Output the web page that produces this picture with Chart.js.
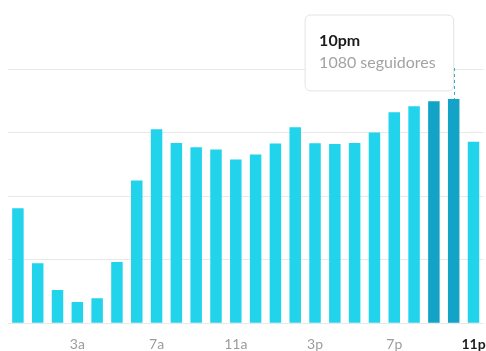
<!DOCTYPE html>
<html>
<head>
<meta charset="utf-8">
<script src="https://cdn.jsdelivr.net/npm/chart.js@4/dist/chart.umd.min.js"></script>
<style>
  html, body { margin: 0; padding: 0; background: #ffffff; }
  #wrap { width: 486px; height: 351px; position: relative; }
</style>
</head>
<body>
<div id="wrap"><canvas id="chart"></canvas></div>
<script>
// Followers online by hour of day
const hours = ['12a','1a','2a','3a','4a','5a','6a','7a','8a','9a','10a','11a',
               '12p','1p','2p','3p','4p','5p','6p','7p','8p','9p','10p','11p'];
const hourNames = ['12am','1am','2am','3am','4am','5am','6am','7am','8am','9am','10am','11am',
                   '12pm','1pm','2pm','3pm','4pm','5pm','6pm','7pm','8pm','9pm','10pm','11pm'];
const followers = [554, 289, 160, 103, 120, 295, 687, 934, 868, 847, 836, 788,
                   812, 865, 944, 867, 863, 868, 918, 1016, 1045, 1069, 1080, 874];
const shownTicks = ['3a', '7a', '11a', '3p', '7p', '11p'];
const currentTick = '11p';
const peakHours = ['9p', '10p'];
const selectedHour = '10p';
const gridStep = 306;
const gridMax = 1224;

const FONT = 'Lato, "Noto Sans", sans-serif';
const BAR = '#21d3eb';
const BAR_PEAK = '#12a3c6';

const selectedIndex = hours.indexOf(selectedHour);

// position the tooltip box so its right edge sits on the bar centre
Chart.Tooltip.positioners.hourTop = function (items) {
  if (!items.length) return false;
  const el = items[0].element;
  return { x: el.x - 6, y: 15 };
};

// dashed guide from the tooltip down to the selected bar
const guideLine = {
  id: 'guideLine',
  afterDraw(chart) {
    const el = chart.getDatasetMeta(0).data[selectedIndex];
    if (!el) return;
    const ctx = chart.ctx;
    ctx.save();
    ctx.strokeStyle = '#3aa8d2';
    ctx.lineWidth = 1;
    ctx.setLineDash([3, 3]);
    ctx.beginPath();
    ctx.moveTo(Math.round(el.x) + 0.5, 68);
    ctx.lineTo(Math.round(el.x) + 0.5, el.y);
    ctx.stroke();
    ctx.restore();
  }
};

const chart = new Chart(document.getElementById('chart'), {
  type: 'bar',
  data: {
    labels: hours,
    datasets: [{
      data: followers,
      backgroundColor: hours.map(h => peakHours.includes(h) ? BAR_PEAK : BAR),
      hoverBackgroundColor: hours.map(h => peakHours.includes(h) ? BAR_PEAK : BAR),
      borderWidth: 0,
      categoryPercentage: 1,
      barPercentage: 0.58
    }]
  },
  options: {
    responsive: true,
    maintainAspectRatio: false,
    animation: false,
    events: [],
    layout: { padding: { left: 8, right: 2.6, top: 69, bottom: 0 } },
    scales: {
      x: {
        grid: { display: false, drawTicks: true, tickLength: 13 },
        border: { display: false },
        afterFit: scale => { scale.height = 27.7; },
        ticks: {
          autoSkip: false,
          maxRotation: 0,
          padding: 0,
          font: ctx => ({ family: FONT, size: 14, weight: hours[ctx.index] === currentTick ? 'bold' : 'normal' }),
          color: ctx => hours[ctx.index] === currentTick ? '#1c1c1c' : '#9c9c9c',
          callback: (v, i) => shownTicks.includes(hours[i]) ? hours[i] : ''
        }
      },
      y: {
        min: 0,
        max: gridMax,
        border: { display: false },
        grid: { color: '#e8e8e8', drawTicks: false, lineWidth: 1 },
        ticks: { display: false, stepSize: gridStep }
      }
    },
    plugins: {
      legend: { display: false },
      tooltip: {
        enabled: true,
        position: 'hourTop',
        xAlign: 'right',
        yAlign: 'top',
        caretSize: 0,
        caretPadding: 0,
        cornerRadius: 6,
        backgroundColor: '#ffffff',
        borderColor: '#e3e3e3',
        borderWidth: 1,
        displayColors: false,
        padding: { top: 16.5, bottom: 18, left: 14, right: 18 },
        titleFont: { family: FONT, size: 16, weight: 'bold' },
        titleColor: '#1c1c1c',
        titleMarginBottom: 3,
        bodyFont: { family: FONT, size: 16 },
        bodyColor: '#a3a3a3',
        callbacks: {
          title: items => hourNames[items[0].dataIndex],
          label: item => item.raw + ' seguidores'
        }
      }
    }
  },
  plugins: [guideLine]
});

chart.tooltip.setActiveElements([{ datasetIndex: 0, index: selectedIndex }], { x: 0, y: 0 });
chart.update();
</script>
</body>
</html>
